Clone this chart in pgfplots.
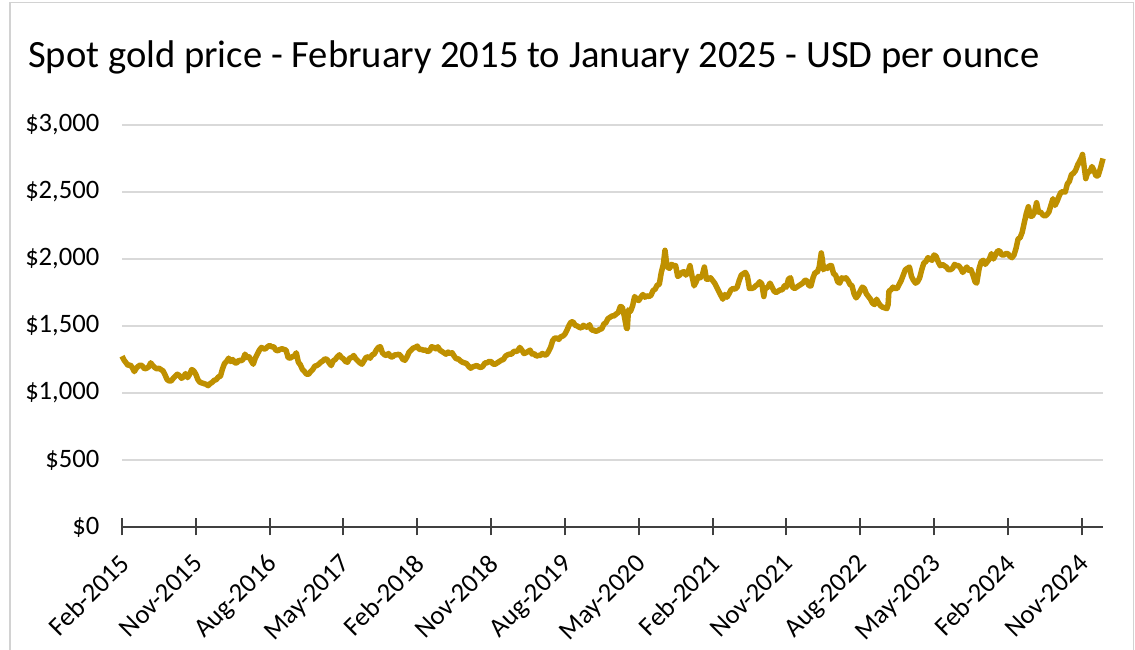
\documentclass[border=0pt]{standalone}
\usepackage{pgfplots}
\pgfplotsset{compat=1.18}
\usepackage{fontspec}
\setmainfont{Carlito}
\definecolor{goldline}{HTML}{BF9000}
\definecolor{gridgray}{HTML}{D9D9D9}
\definecolor{axisgray}{HTML}{404040}
\begin{document}
\begin{tikzpicture}[x=1pt,y=1pt]
\useasboundingbox (0,0) rectangle (1135,650);
\draw[gray!35, line width=1.5pt] (10,-5) -- (10,647.5) -- (1133.5,647.5) -- (1133.5,-5);
\node[anchor=base west, inner sep=0pt, font=\fontsize{38.6}{46}\selectfont] at (28,582) {Spot gold price - February 2015 to January 2025 - USD per ounce};
\begin{axis}[
  at={(122pt,123pt)}, anchor=south west,
  scale only axis, width=981pt, height=402pt,
  xmin=0, xmax=119.6, ymin=0, ymax=3000,
  axis x line*=bottom, axis y line*=left,
  x axis line style={axisgray, line width=2pt},
  y axis line style={draw=none},
  ytick={0,500,1000,1500,2000,2500,3000},
  yticklabels={{\$0},{\$500},{\$1,000},{\$1,500},{\$2,000},{\$2,500},{\$3,000}},
  ymajorgrids, grid style={gridgray, line width=1.5pt},
  ytick style={draw=none},
  xtick={0,9,18,27,36,45,54,63,72,81,90,99,108,117},
  xticklabels={Feb-2015,Nov-2015,Aug-2016,May-2017,Feb-2018,Nov-2018,Aug-2019,May-2020,Feb-2021,Nov-2021,Aug-2022,May-2023,Feb-2024,Nov-2024},
  xtick style={axisgray, line width=2pt},
  tick align=center, major tick length=17pt,
  tick label style={font=\fontsize{26.6}{30}\selectfont, text=black},
  yticklabel style={anchor=east, inner sep=0pt, xshift=-14pt},
  xticklabel style={rotate=45, anchor=north east, inner sep=0pt, xshift=-15pt, yshift=-9pt},
  clip=false,
]
\addplot[goldline, line width=5.5pt, line join=round] table {
x y
0 1275
0.25 1245
0.5 1225
0.75 1205
1 1210
1.25 1190
1.5 1160
1.75 1185
2 1200
2.25 1210
2.5 1200
2.75 1180
3 1185
3.25 1195
3.5 1225
3.75 1205
4 1190
4.25 1180
4.5 1185
4.75 1175
5 1165
5.25 1135
5.5 1100
5.75 1090
6 1090
6.25 1110
6.5 1125
6.75 1140
7 1130
7.25 1110
7.5 1120
7.75 1145
8 1115
8.25 1140
8.5 1175
8.75 1165
9 1140
9.25 1100
9.5 1080
9.75 1075
10 1070
10.25 1065
10.5 1055
10.75 1070
11 1080
11.25 1095
11.5 1100
11.75 1120
12 1125
12.25 1180
12.5 1220
12.75 1235
13 1260
13.25 1235
13.5 1250
13.75 1225
14 1225
14.25 1245
14.5 1240
14.75 1250
15 1290
15.25 1265
15.5 1270
15.75 1240
16 1215
16.25 1260
16.5 1290
16.75 1320
17 1340
17.25 1330
17.5 1330
17.75 1345
18 1355
18.25 1345
18.5 1345
18.75 1320
19 1315
19.25 1325
19.5 1330
19.75 1325
20 1320
20.25 1265
20.5 1260
20.75 1270
21 1275
21.25 1300
21.5 1230
21.75 1210
22 1175
22.25 1160
22.5 1140
22.75 1140
23 1160
23.25 1175
23.5 1200
23.75 1205
24 1215
24.25 1230
24.5 1240
24.75 1255
25 1250
25.25 1225
25.5 1205
25.75 1240
26 1250
26.25 1270
26.5 1285
26.75 1265
27 1255
27.25 1235
27.5 1230
27.75 1260
28 1265
28.25 1280
28.5 1255
28.75 1240
29 1225
29.25 1215
29.5 1240
29.75 1265
30 1270
30.25 1260
30.5 1285
30.75 1290
31 1320
31.25 1340
31.5 1345
31.75 1300
32 1285
32.25 1280
32.5 1295
32.75 1270
33 1270
33.25 1285
33.5 1285
33.75 1290
34 1275
34.25 1250
34.5 1245
34.75 1270
35 1305
35.25 1320
35.5 1335
35.75 1340
36 1350
36.25 1325
36.5 1325
36.75 1320
37 1320
37.25 1310
37.5 1315
37.75 1345
38 1340
38.25 1330
38.5 1345
38.75 1320
39 1310
39.25 1300
39.5 1290
39.75 1305
40 1295
40.25 1300
40.5 1275
40.75 1255
41 1255
41.25 1240
41.5 1230
41.75 1225
42 1220
42.25 1200
42.5 1185
42.75 1195
43 1200
43.25 1205
43.5 1195
43.75 1190
44 1200
44.25 1225
44.5 1225
44.75 1235
45 1235
45.25 1215
45.5 1215
45.75 1225
46 1235
46.25 1245
46.5 1250
46.75 1275
47 1285
47.25 1290
47.5 1290
47.75 1310
48 1310
48.25 1315
48.5 1340
48.75 1320
49 1295
49.25 1300
49.5 1310
49.75 1320
50 1290
50.25 1295
50.5 1275
50.75 1280
51 1280
51.25 1295
51.5 1285
51.75 1285
52 1310
52.25 1340
52.5 1390
52.75 1410
53 1410
53.25 1400
53.5 1420
53.75 1425
54 1440
54.25 1470
54.5 1505
54.75 1530
55 1530
55.25 1505
55.5 1500
55.75 1490
56 1485
56.25 1505
56.5 1495
56.75 1490
57 1510
57.25 1470
57.5 1470
57.75 1460
58 1465
58.25 1475
58.5 1480
58.75 1515
59 1525
59.25 1555
59.5 1565
59.75 1575
60 1575
60.25 1590
60.5 1600
60.75 1645
61 1640
61.25 1570
61.5 1485
61.6 1480
61.75 1620
62 1610
62.25 1650
62.5 1720
62.75 1700
63 1690
63.25 1715
63.5 1735
63.75 1715
64 1725
64.25 1720
64.5 1730
64.75 1765
65 1775
65.25 1805
65.5 1810
65.75 1900
66 1960
66.2 2065
66.35 1990
66.5 1940
66.75 1930
67 1960
67.25 1950
67.5 1950
67.75 1870
68 1880
68.25 1900
68.5 1905
68.75 1880
69 1900
69.25 1950
69.5 1870
69.75 1800
70 1830
70.25 1870
70.5 1860
70.75 1880
71 1940
71.25 1850
71.5 1850
71.75 1860
72 1840
72.25 1820
72.5 1790
72.75 1760
73 1730
73.25 1700
73.5 1735
73.75 1715
74 1740
74.25 1770
74.5 1780
74.75 1775
75 1790
75.25 1840
75.5 1880
75.75 1890
76 1900
76.25 1870
76.5 1780
76.75 1780
77 1785
77.25 1800
77.5 1810
77.75 1830
78 1815
78.25 1720
78.4 1780
78.75 1790
79 1820
79.25 1790
79.5 1760
79.75 1750
80 1760
80.25 1770
80.5 1770
80.75 1800
81 1790
81.25 1850
81.5 1860
81.75 1790
82 1780
82.25 1790
82.5 1800
82.75 1810
83 1820
83.25 1840
83.5 1840
83.75 1800
84 1800
84.25 1860
84.5 1900
84.75 1900
85 1940
85.25 2045
85.4 1990
85.5 1920
85.75 1940
86 1930
86.25 1950
86.5 1950
86.75 1890
87 1880
87.25 1830
87.5 1820
87.75 1860
88 1850
88.25 1860
88.5 1840
88.75 1810
89 1800
89.25 1740
89.5 1710
89.75 1730
90 1760
90.25 1790
90.5 1780
90.75 1740
91 1720
91.25 1700
91.5 1670
91.75 1660
92 1700
92.25 1670
92.5 1650
92.75 1640
93 1635
93.25 1630
93.4 1660
93.5 1760
93.75 1770
94 1790
94.25 1780
94.5 1780
94.75 1810
95 1840
95.25 1880
95.5 1920
95.75 1930
96 1940
96.25 1870
96.5 1840
96.75 1820
97 1830
97.25 1860
97.5 1920
97.75 1970
98 1980
98.25 2010
98.5 2000
98.75 1990
99 2030
99.25 2020
99.5 1980
99.75 1950
100 1960
100.25 1950
100.5 1940
100.75 1920
101 1920
101.25 1930
101.5 1960
101.75 1950
102 1950
102.25 1930
102.5 1900
102.75 1920
103 1940
103.25 1915
103.5 1920
103.75 1880
104 1830
104.2 1820
104.5 1930
104.75 1980
105 1990
105.25 1960
105.5 1980
105.75 2000
106 2040
106.25 2000
106.5 2030
106.75 2060
107 2060
107.25 2030
107.5 2030
107.75 2040
108 2040
108.25 2020
108.5 2010
108.75 2030
109 2080
109.25 2150
109.5 2160
109.75 2200
110 2270
110.25 2340
110.5 2390
110.75 2320
111 2320
111.25 2350
111.5 2420
111.75 2350
112 2350
112.25 2330
112.5 2320
112.75 2330
113 2350
113.25 2400
113.5 2450
113.75 2400
114 2430
114.25 2470
114.5 2500
114.75 2500
115 2500
115.25 2560
115.5 2580
115.75 2630
116 2640
116.25 2660
116.5 2700
116.75 2730
117 2760
117.1 2780
117.3 2690
117.5 2600
117.75 2650
118 2650
118.25 2690
118.5 2660
118.75 2620
119 2620
119.3 2680
119.6 2750
};
\end{axis}
\end{tikzpicture}
\end{document}
